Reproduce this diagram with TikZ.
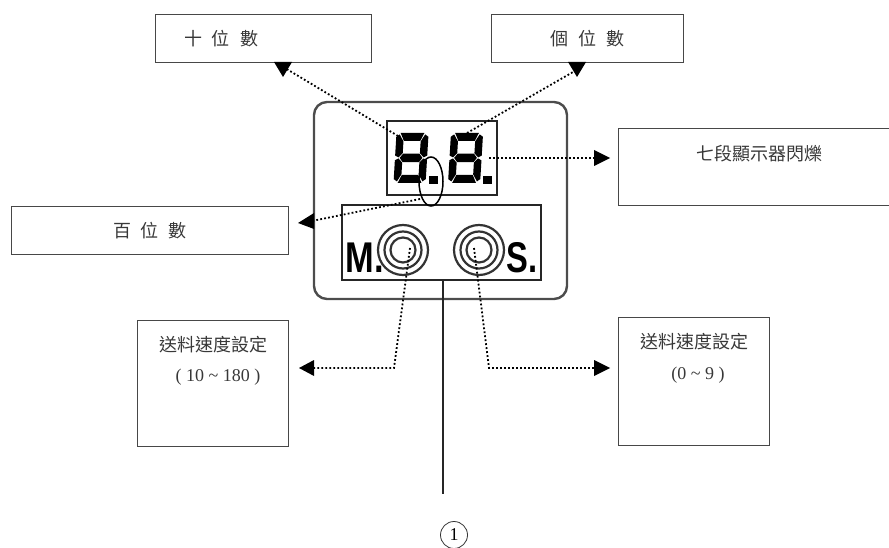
\documentclass[tikz,border=0pt]{standalone}
\usepackage{fontspec}
\setmainfont{Liberation Serif}
\newfontfamily\cjk{Noto Sans CJK TC}
\newfontfamily\lcd{Liberation Sans}[Scale=1]
\usetikzlibrary{arrows.meta,shapes.geometric}
\definecolor{txt}{gray}{0.22}
\definecolor{ink}{gray}{0.28}
\tikzset{
  x=1pt,y=-1pt,
  infobox/.style={draw=ink,line width=0.9pt,fill=white,inner sep=0pt,minimum width=#1},
  infotext/.style={text=txt,inner sep=0pt,font=\fontsize{18}{20}\selectfont\cjk},
  numtext/.style={text=txt,inner sep=0pt,font=\fontsize{18}{20}\selectfont},
  dotline/.style={line width=1.8pt,dash pattern=on 1.8pt off 2.2pt},
  head/.style={fill=black,draw=none},
  panel/.style={draw=black!85,line width=2.2pt},
  seg/.style={fill=black,draw=none},
  ring/.style={draw=black!80,line width=2.2pt},
  keychar/.style={inner sep=0pt,font=\fontsize{43}{43}\selectfont\lcd\bfseries},
}
\newcommand{\sevenseg}[2]{%
  \begin{scope}[shift={(#1,#2)},xslant=0.06,xscale=0.93,yscale=0.94]
    \fill[seg] (4.5,0)--(30,0)--(26,8.5)--(8.5,8.5)--cycle;
    \fill[seg] (8.5,22)--(26,22)--(29.5,26.5)--(26,31)--(8.5,31)--(5,26.5)--cycle;
    \fill[seg] (8.5,44.5)--(26,44.5)--(30,53)--(4.5,53)--cycle;
    \fill[seg] (0,4)--(3.5,1.5)--(8,9)--(8,21.5)--(3.8,25.9)--(0,24)--cycle;
    \fill[seg] (0,29)--(3.8,27.1)--(8,31.5)--(8,44)--(3.5,51.5)--(0,49)--cycle;
    \fill[seg] (34.5,4)--(31,1.5)--(26.5,9)--(26.5,21.5)--(30.7,25.9)--(34.5,24)--cycle;
    \fill[seg] (34.5,29)--(30.7,27.1)--(26.5,31.5)--(26.5,44)--(31,51.5)--(34.5,49)--cycle;
  \end{scope}}
\begin{document}
\begin{tikzpicture}
\useasboundingbox (0,0) rectangle (889,548);
% device
\node[panel,draw=black!70,line width=2.4pt,rounded corners=13pt,minimum width=253pt,minimum height=197pt,inner sep=0pt] (device) at (440.5,200.5) {};
\node[panel,minimum width=110pt,minimum height=74pt,inner sep=0pt] (display) at (442,158) {};
\node[panel,minimum width=199pt,minimum height=75pt,inner sep=0pt] (keys) at (441.5,242.5) {};
\sevenseg{396.5}{133}
\sevenseg{451}{133}
\fill[black] (429,176) rectangle (438,184);
\fill[black] (483,176) rectangle (492,184);
\node[keychar,anchor=center,xscale=0.8] (mlabel) at (365,257.5) {M.};
\node[keychar,anchor=center,xscale=0.76] (slabel) at (522,257.5) {S.};
\foreach \n/\cx in {m/403,s/479}{
  \node[ring,circle,minimum size=50pt,inner sep=0pt] (\n outer) at (\cx,250) {};
  \node[ring,circle,minimum size=37pt,inner sep=0pt] (\n mid) at (\cx,250) {};
  \node[ring,circle,minimum size=25pt,inner sep=0pt] (\n inner) at (\cx,250) {};
}
\node[draw=black,line width=1.5pt,ellipse,minimum width=24pt,minimum height=49pt,inner sep=0pt] (hundreds) at (431,181.5) {};
% boxes
\node[infobox=216pt,minimum height=48pt] (tens) at (263,38) {};
\node[infobox=192pt,minimum height=48pt] (ones) at (587,38) {};
\node[infobox=277pt,minimum height=48pt] (hund) at (149.5,230) {};
\node[infobox=280pt,minimum height=77pt] (blink) at (758,166.5) {};
\node[infobox=151pt,minimum height=126pt] (feedl) at (212.5,383) {};
\node[infobox=151pt,minimum height=128pt] (feedr) at (693.5,381) {};
% texts
\node[infotext] (t1) at (221,39) {十\hspace{10pt}位\hspace{10pt}數};
\node[infotext] (t2) at (587.5,39) {個\hspace{10pt}位\hspace{10pt}數};
\node[infotext] (t3) at (150,231) {百\hspace{10pt}位\hspace{10pt}數};
\node[infotext] (t4) at (759,154) {七段顯示器閃爍};
\node[infotext] (t5) at (213,345) {送料速度設定};
\node[numtext] (t6) at (218,377) {( 10 \textasciitilde{} 180 )};
\node[infotext] (t7) at (694,342) {送料速度設定};
\node[numtext] (t8) at (698,375) {(0 \textasciitilde{} 9 )};
% connector ends
\coordinate (c1) at (398,136);
\coordinate (c1a) at (285,68);
\coordinate (c2) at (467,133);
\coordinate (c2a) at (580,68);
\coordinate (c3) at (489,158);
\coordinate (c3a) at (596,158);
\coordinate (c4) at (420,199);
\coordinate (c4a) at (312,221);
\coordinate (c5) at (410,248);
\coordinate (c5b) at (394,368);
\coordinate (c5a) at (312,368);
\coordinate (c6) at (474,248);
\coordinate (c6b) at (489,368);
\coordinate (c6a) at (596,368);
\coordinate (c7) at (443,279);
\coordinate (c7a) at (443,494);
\draw[dotline] (c1)--(c1a);
\draw[dotline] (c2)--(c2a);
\draw[dotline] (c3)--(c3a);
\draw[dotline] (c4)--(c4a);
\draw[dotline] (c5)--(c5b)--(c5a);
\draw[dotline] (c6)--(c6b)--(c6a);
\draw[line width=1.4pt,black!85] (c7)--(c7a);
% arrowheads
\fill[head] (274,62)--(292,62)--(283,77)--cycle;
\fill[head] (568,62)--(586,62)--(577,77)--cycle;
\fill[head] (594,150)--(594,166)--(610,158)--cycle;
\fill[head] (314,213)--(314,229)--(298,223)--cycle;
\fill[head] (314,360)--(314,376)--(299,368)--cycle;
\fill[head] (594,360)--(594,376)--(610,368)--cycle;
\node[draw=black!80,circle,line width=0.8pt,minimum size=27pt,inner sep=0pt,font=\fontsize{18}{20}\selectfont] (one) at (454,535) {1};
\end{tikzpicture}
\end{document}
